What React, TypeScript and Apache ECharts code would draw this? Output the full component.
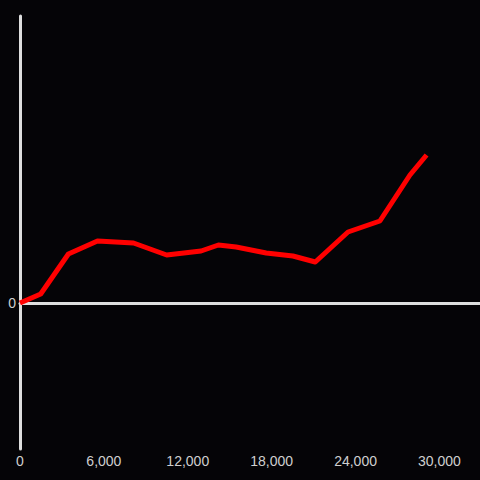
import React, { useEffect, useRef } from "react";
import * as echarts from "echarts";

const xValues = [0, 1480, 3460, 5540, 8120, 10490, 12950, 14190, 15460, 17610, 19520, 21120, 23460, 25740, 27890, 29080];
const yValues = [0, 9, 49, 62, 60, 48, 52, 58, 56, 50, 47, 41, 71, 82, 128, 148];
const xTickInterval = 6000;
const xMax = 32900;
const yMin = -146;
const yMax = 287;

export default function App() {
  const ref = useRef<HTMLDivElement>(null);
  useEffect(() => {
    if (!ref.current) return;
    const chart = echarts.init(ref.current, null, { renderer: "svg" });
    const data = xValues.map((x, i) => [x, yValues[i]]);
    chart.setOption({
      animation: false,
      backgroundColor: "#050407",
      grid: { left: 20, right: 0, top: 16, bottom: 31, containLabel: false },
      xAxis: [
        {
          type: "value",
          min: 0,
          max: xMax,
          interval: xTickInterval,
          axisLine: { show: false, onZero: false },
          axisTick: { show: false },
          splitLine: { show: false },
          axisLabel: {
            color: "#cfcfcf",
            fontSize: 14,
            fontFamily: "Liberation Sans, Arial, sans-serif",
            margin: 5,
            showMaxLabel: false,
            formatter: (v: number) => v.toLocaleString("en-US"),
          },
        },
        {
          type: "value",
          position: "bottom",
          min: 0,
          max: xMax,
          interval: xTickInterval,
          axisLine: { show: true, onZero: true, lineStyle: { color: "#dedede", width: 3 } },
          axisTick: { show: false },
          splitLine: { show: false },
          axisLabel: { show: false },
        },
      ],
      yAxis: {
        type: "value",
        min: yMin,
        max: yMax,
        interval: 146,
        axisLine: { show: true, onZero: false, lineStyle: { color: "#dedede", width: 3 } },
        axisTick: { show: false },
        splitLine: { show: false },
        axisLabel: {
          color: "#cfcfcf",
          fontSize: 14,
          fontFamily: "Liberation Sans, Arial, sans-serif",
          margin: 4,
          formatter: (v: number) => (v === 0 ? "0" : ""),
        },
      },
      series: [
        {
          type: "line",
          data,
          xAxisIndex: 0,
          showSymbol: false,
          symbol: "none",
          lineStyle: { color: "#ff0000", width: 5, join: "round" },
          z: 5,
        },
      ],
    });
    return () => chart.dispose();
  }, []);
  return <div ref={ref} style={{ width: 480, height: 480, position: "absolute", left: 0, top: 0 }} />;
}
